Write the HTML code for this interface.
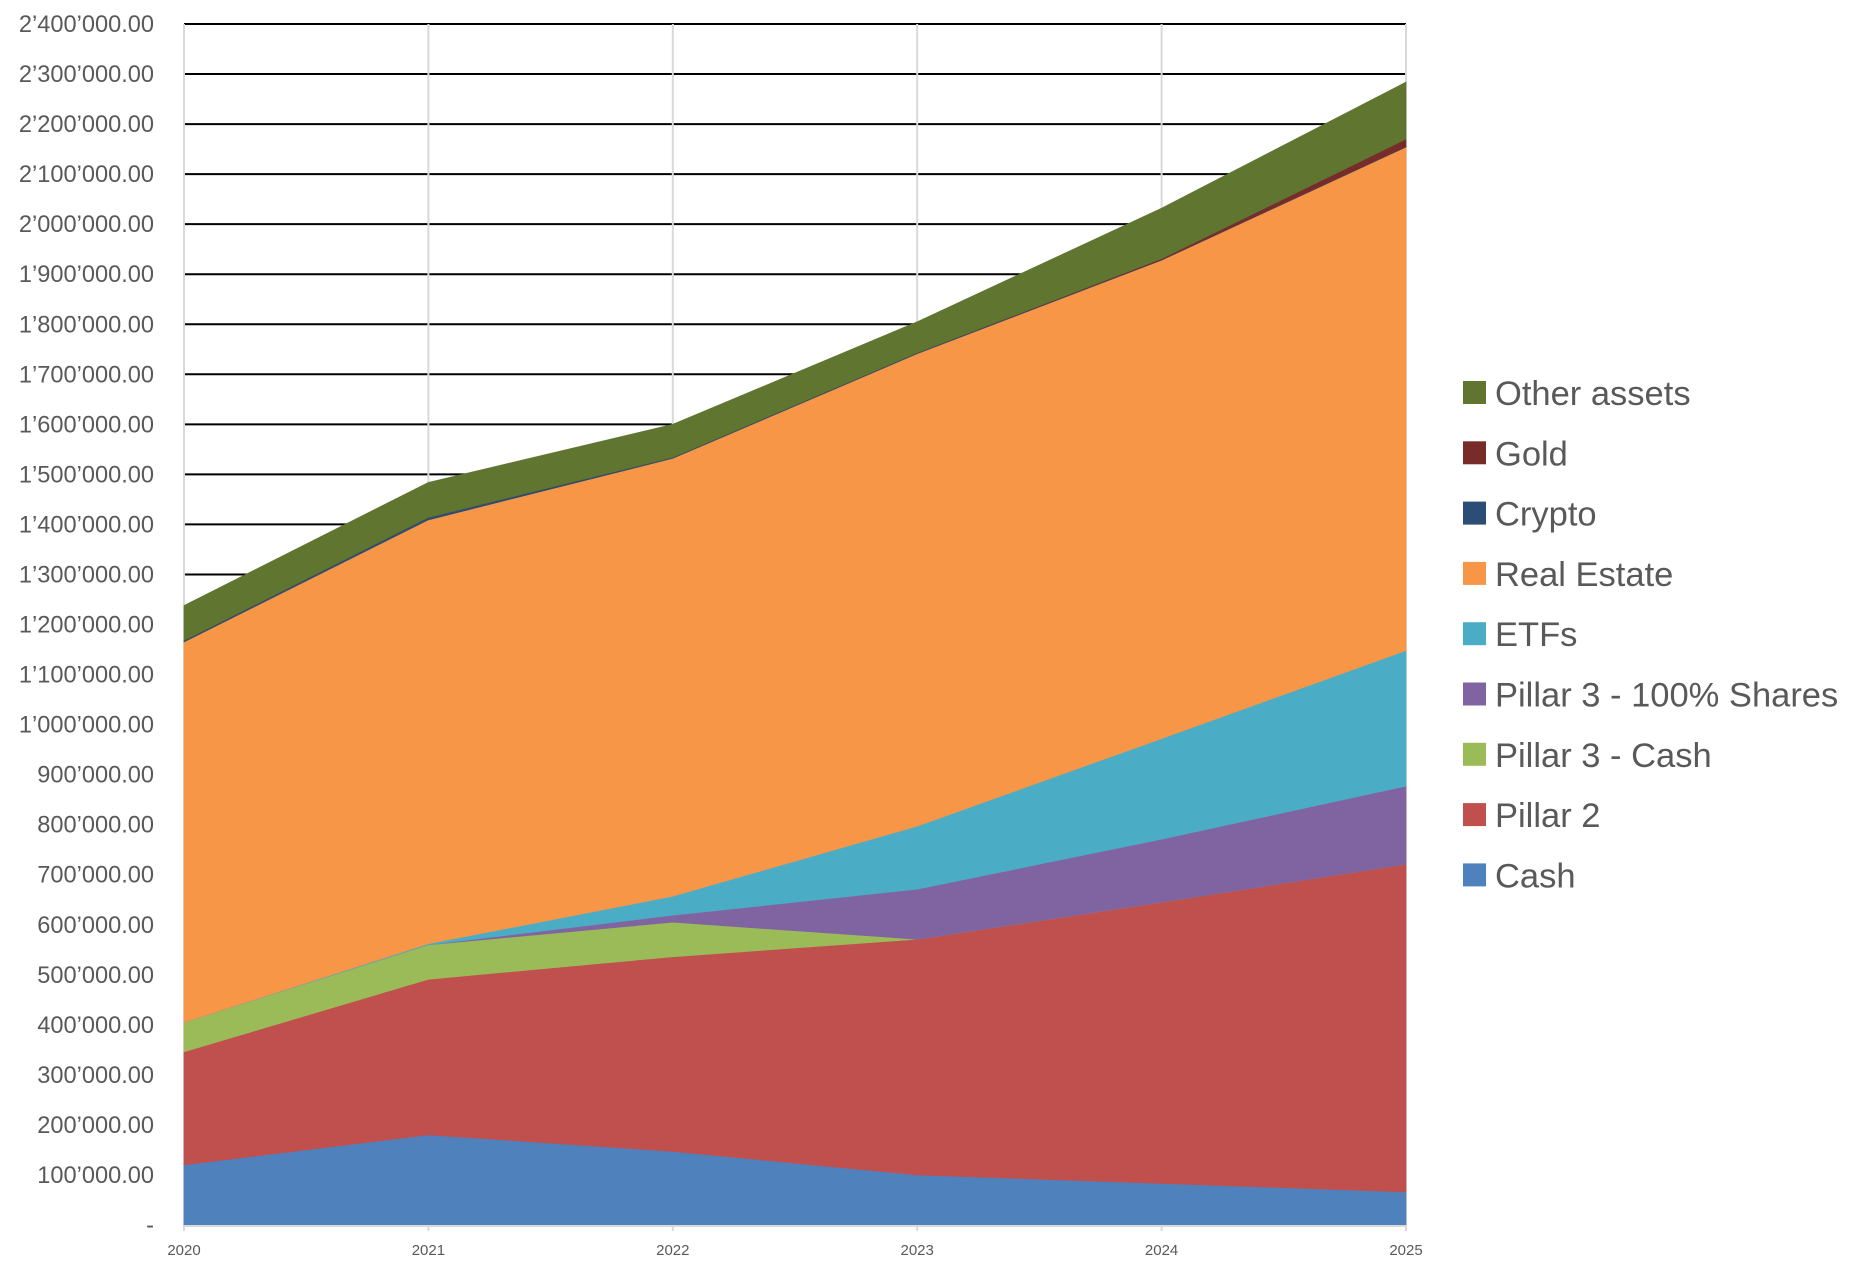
<!DOCTYPE html>
<html><head><meta charset="utf-8"><style>
html,body{margin:0;padding:0;background:#fff;}
body{width:1860px;height:1270px;overflow:hidden;font-family:"Liberation Sans",sans-serif;}
</style></head><body>
<svg id="chart" width="1860" height="1270" xmlns="http://www.w3.org/2000/svg">
<g id="grid"></g>
<g id="areas"></g>
<g id="axes"></g>
<g id="legend"></g>
</svg>
<script>
const years = ["2020","2021","2022","2023","2024","2025"];
const seriesNames = ["Cash","Pillar 2","Pillar 3 - Cash","Pillar 3 - 100% Shares","ETFs","Real Estate","Crypto","Gold","Other assets"];
const cash = [120000,180000,147000,100000,83000,66000];
const pillar2 = [226000,311000,389000,471000,562000,655000];
const pillar3Cash = [59000,69000,69000,0,0,0];
const pillar3Shares = [0,0,14000,100000,126000,156000];
const etfs = [0,2000,38000,126000,201000,271000];
const realEstate = [760000,847000,875000,944000,956000,1006000];
const crypto = [3000,5000,2000,2000,1000,1000];
const gold = [0,0,0,0,2000,15000];
const otherAssets = [70000,70000,66000,62000,101000,114000];
const yTicks = [0,100000,200000,300000,400000,500000,600000,700000,800000,900000,1000000,1100000,1200000,1300000,1400000,1500000,1600000,1700000,1800000,1900000,2000000,2100000,2200000,2300000,2400000];
const colors = ["#4f81bd","#c0504d","#9bbb59","#8064a2","#4bacc6","#f79646","#2c4d75","#772c2a","#5f7530"];

const NS="http://www.w3.org/2000/svg";
const X0=184,X1=1406,Y0=1225,YTOP=24,YMAX=2400000;
function xs(i){return X0+(X1-X0)*i/(years.length-1);}
function ys(v){return Y0-(Y0-YTOP)*v/YMAX;}
function mk(tag,attrs,parent){const e=document.createElementNS(NS,tag);for(const k in attrs)e.setAttribute(k,attrs[k]);parent.appendChild(e);return e;}
function fmt(v){if(v===0)return "-";const s=Math.round(v).toString();return s.replace(/\B(?=(\d{3})+(?!\d))/g,"\u2019")+".00";}

const grid=document.getElementById('grid'),areas=document.getElementById('areas'),axes=document.getElementById('axes'),legend=document.getElementById('legend');
yTicks.forEach(t=>{
  if(t>0){const l=mk('line',{x1:X0,x2:X1,y1:ys(t),y2:ys(t),stroke:'#000','stroke-width':2},grid);
  
  }
  const tx=mk('text',{x:154,y:ys(t)+8,'text-anchor':'end','font-size':23.6,fill:'#595959'},axes);
  tx.textContent=fmt(t);
  
  
});
years.forEach((y,i)=>{
  const l=mk('line',{x1:xs(i),x2:xs(i),y1:YTOP,y2:Y0,stroke:'#d9d9d9','stroke-width':2},grid);
  
  
});
const data=[cash,pillar2,pillar3Cash,pillar3Shares,etfs,realEstate,crypto,gold,otherAssets];
let base=years.map(()=>0);
data.forEach((s,k)=>{
  const top=base.map((b,i)=>b+s[i]);
  let d='M'+years.map((_,i)=>xs(i)+','+ys(top[i])).join(' L');
  for(let i=years.length-1;i>=0;i--)d+=' L'+xs(i)+','+ys(base[i]);
  d+='Z';
  const p=mk('path',{d:d,fill:colors[k],stroke:colors[k],'stroke-width':0.6},areas);
  
  
  base=top;
});
const ax=mk('line',{x1:X0-1,x2:X1+1,y1:Y0+1,y2:Y0+1,stroke:'#d9d9d9','stroke-width':2},axes);


years.forEach((y,i)=>{
  const tk=mk('line',{x1:xs(i),x2:xs(i),y1:Y0,y2:Y0+6,stroke:'#d9d9d9','stroke-width':2},axes);
  
  
  const t=mk('text',{x:xs(i),y:1255,'text-anchor':'middle','font-size':15,fill:'#595959'},axes);
  t.textContent=y;
  
  
});
for(let k=seriesNames.length-1,r=0;k>=0;k--,r++){
  const cy=393+r*60.3;
  const g=mk('g',{},legend);
  
  
  mk('rect',{x:1463,y:cy-12,width:23,height:23,fill:colors[k]},g);
  const t=mk('text',{x:1495,y:cy+12,'font-size':34.5,fill:'#595959'},g);
  t.textContent=seriesNames[k];
}
</script>
</body></html>
